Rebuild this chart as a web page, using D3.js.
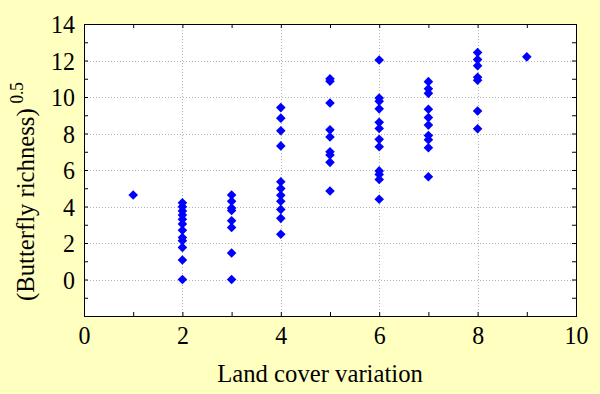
<!DOCTYPE html>
<html><head><meta charset="utf-8">
<script src="https://cdn.jsdelivr.net/npm/d3@7"></script>
<style>html,body{margin:0;padding:0;background:#FFFFC0;}svg{display:block;}
text{font-family:"Liberation Serif","Times New Roman",serif;}</style>
</head><body>
<script>
// Land cover variation categories and (butterfly richness)^0.5 values per category
const landCover = [1, 2, 3, 4, 5, 6, 7, 8, 9];
const rich1 = [4.63];
const rich2 = [4.2, 3.98, 3.76, 3.53, 3.3, 3.04, 2.7, 2.3, 2.12, 1.76, 1.07, 0];
const rich3 = [4.63, 4.29, 3.92, 3.78, 3.22, 2.85, 1.45, 0];
const rich4 = [9.42, 8.84, 8.15, 7.32, 5.36, 4.98, 4.62, 4.29, 3.84, 3.35, 2.48];
const rich5 = [11.0, 10.86, 9.67, 8.2, 7.81, 7.0, 6.82, 6.42, 4.85];
const rich6 = [12.03, 9.94, 9.77, 9.35, 8.61, 8.27, 7.68, 7.27, 5.95, 5.76, 5.48, 4.4];
const rich7 = [10.84, 10.45, 10.2, 9.33, 8.87, 8.46, 7.89, 7.66, 7.22, 5.63];
const rich8 = [12.44, 12.05, 11.71, 11.08, 10.92, 9.23, 8.26];
const rich9 = [12.2];
const richness = [rich1, rich2, rich3, rich4, rich5, rich6, rich7, rich8, rich9];
const xTicks = [0, 2, 4, 6, 8, 10];
const yTicks = [0, 2, 4, 6, 8, 10, 12, 14];
const xTitle = "Land cover variation";
const yTitle = "(Butterfly richness)";
const ySup = "0.5";

const W = 600, H = 394;
const m = {left: 84, right: 24, top: 24, bottom: 78};
const FS = 26, SX = 0.92;
const svg = d3.select("body").append("svg").attr("width", W).attr("height", H);
svg.append("rect").attr("width", W).attr("height", H).attr("fill", "#FFFFC0");

const x = d3.scaleLinear().domain([0, 10]).range([m.left, W - m.right]);
const y = d3.scaleLinear().domain([-2, 14]).range([H - m.bottom, m.top]);
const x0 = x.range()[0], x1 = x.range()[1], y0 = y.range()[0], y1 = y.range()[1];

svg.append("rect").attr("x", x0).attr("y", y1).attr("width", x1 - x0).attr("height", y0 - y1)
  .attr("fill", "#fff");

// grid
const g = svg.append("g").attr("stroke", "#b4b4b4").attr("stroke-dasharray", "1,2").attr("stroke-width", 1);
[2, 4, 6, 8].forEach(v => g.append("line").attr("x1", Math.round(x(v)) + 0.5).attr("x2", Math.round(x(v)) + 0.5).attr("y1", y1).attr("y2", y0));
[0, 2, 4, 6, 8, 10, 12].forEach(v => g.append("line").attr("y1", Math.round(y(v)) + 0.5).attr("y2", Math.round(y(v)) + 0.5).attr("x1", x0).attr("x2", x1));

// axes with inward ticks on all four sides
const xMinor = d3.range(0, 11, 1);
const yMinor = d3.range(-2, 15, 1);
const tk = 4;
svg.append("g").attr("transform", `translate(0,${y0})`)
  .call(d3.axisTop(x).tickValues(xMinor).tickSize(tk).tickFormat(""))
  .call(a => a.select(".domain").remove());
svg.append("g").attr("transform", `translate(0,${y1})`)
  .call(d3.axisBottom(x).tickValues(xMinor).tickSize(tk).tickFormat(""))
  .call(a => a.select(".domain").remove());
svg.append("g").attr("transform", `translate(${x0},0)`)
  .call(d3.axisRight(y).tickValues(yMinor).tickSize(tk).tickFormat(""))
  .call(a => a.select(".domain").remove());
svg.append("g").attr("transform", `translate(${x1},0)`)
  .call(d3.axisLeft(y).tickValues(yMinor).tickSize(tk).tickFormat(""))
  .call(a => a.select(".domain").remove());

// tick labels
svg.append("g").attr("transform", `translate(0,${y0})`)
  .call(d3.axisBottom(x).tickValues(xTicks).tickSize(0).tickFormat(d3.format("d")))
  .call(a => a.select(".domain").remove())
  .call(a => a.selectAll("text").attr("y", 28).attr("dy", 0)
    .attr("font-size", FS).attr("fill", "#000").attr("font-family", "Liberation Serif")
    .attr("transform", `scale(${SX},1)`));
svg.append("g").attr("transform", `translate(${x0},0)`)
  .call(d3.axisLeft(y).tickValues(yTicks).tickSize(0).tickFormat(d3.format("d")))
  .call(a => a.select(".domain").remove())
  .call(a => a.selectAll("text").attr("x", -9 / SX).attr("dy", "0.33em")
    .attr("font-size", FS).attr("fill", "#000").attr("font-family", "Liberation Serif")
    .attr("transform", `scale(${SX},1)`));

svg.append("rect").attr("x", x0 + 0.5).attr("y", y1 + 0.5).attr("width", x1 - x0).attr("height", y0 - y1)
  .attr("fill", "none").attr("stroke", "#000").attr("stroke-width", 1);

// points
const pts = [];
landCover.forEach((lc, i) => richness[i].forEach(v => pts.push([lc, v])));
const sym = d3.symbol().type(d3.symbolSquare).size(46);
svg.append("g").selectAll("path").data(pts).join("path")
  .attr("d", sym)
  .attr("transform", d => `translate(${x(d[0])},${y(d[1])}) rotate(45)`)
  .attr("fill", "#0000FF");

// titles
svg.append("text").attr("transform", `translate(320,382) scale(0.95,1)`)
  .attr("text-anchor", "middle").attr("font-size", FS).attr("fill", "#000").text(xTitle);
const yt = svg.append("text").attr("transform", `translate(34,301) rotate(-90) scale(0.95,1)`)
  .attr("text-anchor", "start").attr("font-size", FS).attr("fill", "#000");
yt.append("tspan").text(yTitle);
yt.append("tspan").attr("font-size", 18).attr("dx", 5).attr("dy", -11).text(ySup);
</script>
</body></html>
